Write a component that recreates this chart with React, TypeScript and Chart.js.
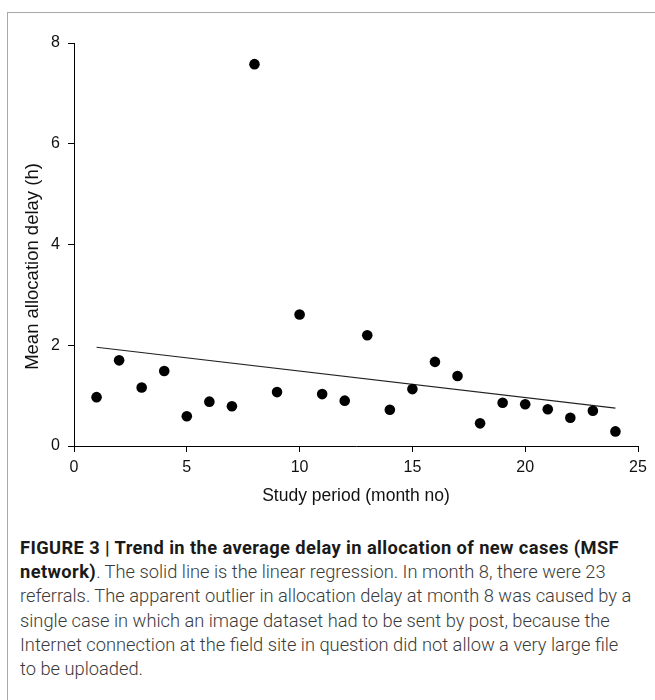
import React, { useEffect, useRef } from "react";
import { Chart, registerables } from "chart.js";

Chart.register(...registerables);

// ---- data ----
const months: number[] = [1, 2, 3, 4, 5, 6, 7, 8, 9, 10, 11, 12, 13, 14, 15, 16, 17, 18, 19, 20, 21, 22, 23, 24];
const meanDelay: number[] = [0.97, 1.7, 1.16, 1.49, 0.59, 0.88, 0.79, 7.58, 1.07, 2.61, 1.03, 0.9, 2.2, 0.72, 1.13, 1.67, 1.39, 0.45, 0.86, 0.83, 0.73, 0.56, 0.7, 0.29];
const trendMonths: number[] = [1, 24];
const trendValues: number[] = [1.96, 0.75];
const xRange: number[] = [0, 25];
const yRange: number[] = [0, 8];
const xStep = 5;
const yStep = 2;
const xTitle = "Study period (month no)";
const yTitle = "Mean allocation delay (h)";

const AXIS_FONT = '"Liberation Sans", Arial, Helvetica, sans-serif';

const yTitlePlugin = {
  id: "yTitleCustom",
  afterDraw(chart: any) {
    const { ctx, chartArea } = chart;
    ctx.save();
    ctx.translate(33, (chartArea.top + chartArea.bottom) / 2 + 22);
    ctx.rotate(-Math.PI / 2);
    ctx.font = `18.5px ${AXIS_FONT}`;
    ctx.fillStyle = "#111";
    ctx.textAlign = "center";
    ctx.textBaseline = "middle";
    ctx.fillText(yTitle, 0, 0);
    ctx.restore();
  },
};

export default function App() {
  const canvasRef = useRef<HTMLCanvasElement | null>(null);

  useEffect(() => {
    if (!canvasRef.current) return;
    const chart = new Chart(canvasRef.current, {
      type: "scatter",
      data: {
        datasets: [
          {
            label: "Mean delay",
            data: months.map((m, i) => ({ x: m, y: meanDelay[i] })),
            backgroundColor: "#000",
            borderColor: "#000",
            borderWidth: 0,
            pointRadius: 5.3,
            pointHoverRadius: 5.3,
          },
          {
            label: "Linear regression",
            data: trendMonths.map((m, i) => ({ x: m, y: trendValues[i] })),
            showLine: true,
            borderColor: "#222",
            borderWidth: 1.2,
            pointRadius: 0,
            pointHoverRadius: 0,
            fill: false,
          } as any,
        ],
      },
      options: {
        animation: false,
        responsive: false,
        devicePixelRatio: 1,
        layout: { padding: { left: 0, right: 17, top: 43, bottom: 0 } },
        plugins: {
          legend: { display: false },
          tooltip: { enabled: false },
        },
        scales: {
          x: {
            type: "linear",
            min: xRange[0],
            max: xRange[1],
            ticks: {
              stepSize: xStep,
              padding: 6,
              color: "#111",
              font: { family: AXIS_FONT, size: 16 },
            },
            grid: {
              display: true,
              drawOnChartArea: false,
              tickLength: 6,
              color: "#000",
              tickColor: "#000",
              tickWidth: 1,
            },
            border: { display: true, color: "#000", width: 1 },
            title: {
              display: true,
              text: xTitle,
              color: "#111",
              font: { family: AXIS_FONT, size: 17.5 },
              padding: { top: 0, bottom: 13 },
            },
            afterFit: (s: any) => {
              s.height = 74;
            },
          },
          y: {
            type: "linear",
            min: yRange[0],
            max: yRange[1],
            ticks: {
              stepSize: yStep,
              padding: 8,
              color: "#111",
              font: { family: AXIS_FONT, size: 16 },
            },
            grid: {
              display: true,
              drawOnChartArea: false,
              tickLength: 6,
              color: "#000",
              tickColor: "#000",
              tickWidth: 1,
            },
            border: { display: true, color: "#000", width: 1 },
            afterFit: (s: any) => {
              s.width = 74;
            },
          },
        },
      },
      plugins: [yTitlePlugin],
    });
    return () => chart.destroy();
  }, []);

  const bold: React.CSSProperties = { fontWeight: 700, color: "#1a1a1a", letterSpacing: "0.4px" };

  return (
    <div style={{ position: "absolute", left: 0, top: 0, width: 655, height: 700, background: "#fff", overflow: "hidden" }}>
      <div
        style={{
          position: "absolute",
          left: 7,
          top: 12,
          right: -2,
          bottom: -2,
          borderTop: "1px solid #a8a8a8",
          borderLeft: "1px solid #a8a8a8",
        }}
      />
      <canvas
        ref={canvasRef}
        width={655}
        height={520}
        style={{ position: "absolute", left: 0, top: 0, width: 655, height: 520 }}
      />
      <div
        style={{
          position: "absolute",
          left: 20,
          top: 536,
          fontFamily: 'Roboto, "Liberation Sans", Arial, sans-serif',
          fontSize: 18.3,
          lineHeight: "24.2px",
          color: "#3a3a3a",
          fontWeight: 300,
          whiteSpace: "nowrap",
        }}
      >
        <span style={bold}>FIGURE 3 | Trend in the average delay in allocation of new cases (MSF</span>
        <br />
        <span style={bold}>network)</span>. The solid line is the linear regression. In month 8, there were 23
        <br />
        referrals. The apparent outlier in allocation delay at month 8 was caused by a
        <br />
        single case in which an image dataset had to be sent by post, because the
        <br />
        Internet connection at the field site in question did not allow a very large file
        <br />
        to be uploaded.
      </div>
    </div>
  );
}
